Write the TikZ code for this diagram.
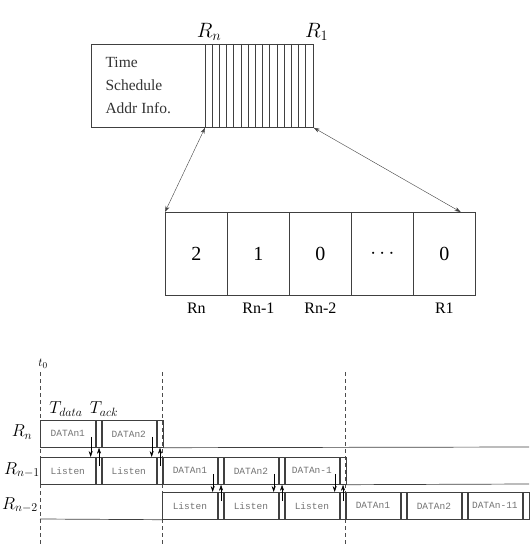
\documentclass[tikz,border=0pt]{standalone}
\usepackage{fontspec}
\setmainfont{Liberation Serif}
\newfontfamily\slotfont{Liberation Mono}
\usetikzlibrary{positioning,arrows.meta}
\tikzset{
  box/.style={draw=black!75, line width=0.7pt, inner sep=0pt, anchor=north west},
  cell/.style={box, minimum width=62pt, minimum height=83pt, font=\fontsize{20}{24}\selectfont},
  dslot/.style={box, minimum width=55pt, minimum height=27pt, font=\slotfont\fontsize{9.5}{11}\selectfont, text=black!55},
  aslot/.style={box, minimum width=6pt, minimum height=27pt},
  tline/.style={draw=black!70, line width=0.7pt, dash pattern=on 4pt off 3pt},
  rlab/.style={font=\fontsize{18}{22}\selectfont},
  solid line/.style={draw=black!75, line width=0.7pt},
}
\begin{document}
\begin{tikzpicture}[x=1pt,y=-1pt,>={Stealth[length=6pt,width=4pt]}]
\useasboundingbox (0,0) rectangle (529,545);
% Frame header with reply slots
\node[box, minimum width=114pt, minimum height=83pt] (info) at (91,44) {};
\node[anchor=west, align=left, font=\fontsize{15.5}{23}\selectfont, text=black!80] (infotxt) at ([xshift=11pt]info.west) {Time\\Schedule\\Addr Info.};
\node[box, minimum width=108pt, minimum height=83pt] (slots) at (205,44) {};
\foreach \i in {1,...,14}
    \draw[solid line] ([xshift=\i*7.2pt]slots.north west) -- ([xshift=\i*7.2pt]slots.south west);
\node[above, font=\fontsize{20}{24}\selectfont] (rn) at ([xshift=4pt]slots.north west) {$R_n$};
\node[above, font=\fontsize{20}{24}\selectfont] (r1) at ([xshift=3pt]slots.north east) {$R_1$};
% Expanded reply slots
\foreach \v [count=\i] in {2,1,0,$\cdots$,0}
    \node[cell] (c\i) at (165+62*\i-62,212) {\v};
\foreach \i/\t in {1/Rn,2/Rn-1,3/Rn-2,5/R1}
    \node[below=4pt of c\i, font=\fontsize{16}{19}\selectfont] (lb\i) {\t};
\draw[<->, black!75] (slots.south west) -- (c1.north west);
\draw[<->, black!75] (slots.south east) -- ([xshift=-15pt]c5.north east);
% Timing of the reply slots
\draw[tline] (40,372) -- (40,545);
\draw[tline] (162,372) -- (162,545);
\draw[tline] (345,372) -- (345,545);
\node[font=\fontsize{13}{15}\selectfont] (t0) at (43,364) {$t_0$};
\node[rlab] (tdata) at (66,409) {$T_{data}$};
\node[rlab] (tack) at (104,409) {$T_{ack}$};
\node[rlab] (rown) at (22,432) {$R_n$};
\node[rlab] (rown1) at (22,470) {$R_{n-1}$};
\node[rlab] (rown2) at (20,505) {$R_{n-2}$};
% row R_n
\foreach \t [count=\i from 0] in {DATAn1,DATAn2} {
    \node[dslot] (d0-\i) at (40+61*\i,420) {\t};
    \node[aslot] (k0-\i) at (d0-\i.north east) {};
}
% row R_n-1
\foreach \t [count=\i from 0] in {Listen,Listen} {
    \node[dslot] (l1-\i) at (40+61*\i,457) {\t};
    \node[aslot] (m1-\i) at (l1-\i.north east) {};
}
\foreach \t [count=\i from 0] in {DATAn1,DATAn2,DATAn-1} {
    \node[dslot] (d1-\i) at (162+61*\i,457) {\t};
    \node[aslot] (k1-\i) at (d1-\i.north east) {};
}
% row R_n-2
\foreach \t [count=\i from 0] in {Listen,Listen,Listen} {
    \node[dslot] (l2-\i) at (162+61*\i,492) {\t};
    \node[aslot] (m2-\i) at (l2-\i.north east) {};
}
\foreach \t [count=\i from 0] in {DATAn1,DATAn2,DATAn-11} {
    \node[dslot] (d2-\i) at (345+61*\i,492) {\t};
    \node[aslot] (k2-\i) at (d2-\i.north east) {};
}
% time lines
\coordinate (nend) at (529,447);
\coordinate (n1end) at (529,484);
\coordinate (n2start) at (40,519);
\draw[solid line] (k0-1.south east) -- (nend);
\draw[solid line] (k1-2.south east) -- (n1end);
\draw[solid line] (n2start) -- (l2-0.south west);
% data and ack arrows
\foreach \i in {0,1} {
    \draw[->] ([xshift=-5pt,yshift=-3pt]d0-\i.east) -- ([xshift=-5pt]l1-\i.north east);
    \draw[->] ([yshift=-9pt]m1-\i.north) -- (k0-\i.south);
}
\foreach \i in {0,1,2} {
    \draw[->] ([xshift=-5pt,yshift=-3pt]d1-\i.east) -- ([xshift=-5pt]l2-\i.north east);
    \draw[->] ([yshift=-9pt]m2-\i.north) -- (k1-\i.south);
}
\end{tikzpicture}
\end{document}
